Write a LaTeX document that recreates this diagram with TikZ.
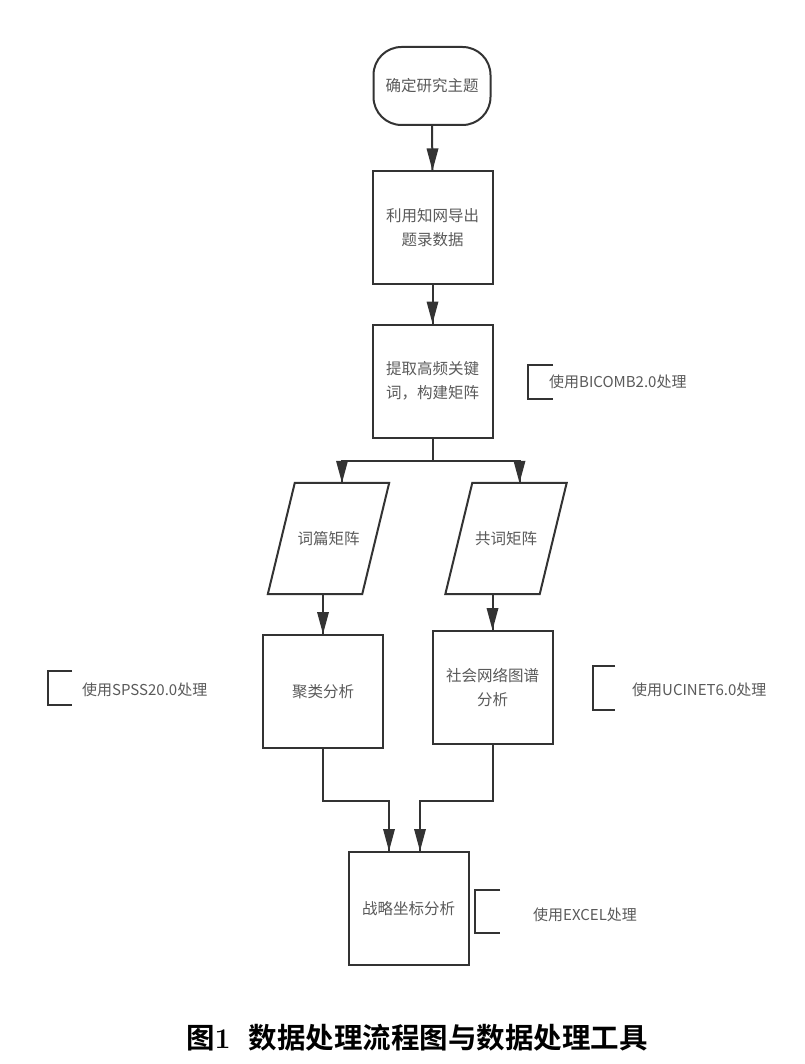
\documentclass[tikz,border=0pt]{standalone}
\usepackage{fontspec}
\newfontfamily\cjk{Noto Sans CJK SC}
\newfontfamily\cjkbold{Noto Sans CJK SC Bold}
\definecolor{lineGray}{HTML}{333333}
\definecolor{textGray}{HTML}{5A5A5A}

\begin{document}
\begin{tikzpicture}[
x=1pt,
y=-1pt,
font=\cjk\fontsize{15.5}{24}\selectfont,
text=textGray,
stage/.style={
rectangle,
draw=lineGray,
line width=2pt,
align=center,
minimum width=120pt,
minimum height=113pt,
inner sep=0pt
},
terminal/.style={
stage,
rounded corners=28pt,
minimum width=117pt,
minimum height=78pt
},
matrixbox/.style={
rectangle,
align=center,
minimum width=121pt,
minimum height=111pt,
inner sep=0pt
},
note/.style={
anchor=west,
inner sep=0pt,
font=\cjk\fontsize{15}{18}\selectfont
},
link/.style={
draw=lineGray,
line width=2pt
}
]

\fill[white] (0,0) rectangle (804,1064);
\useasboundingbox (0,0) rectangle (804,1064);

\node[terminal] (topic) at (432,86)
{确定研究主题};

\node[stage] (export) at (432.5,228)
{利用知网导出\\题录数据};

\node[stage] (extract) at (432.5,381)
{提取高频关键\\词，构建矩阵};

\node[matrixbox] (wordDoc) at (328.5,538.5)
{词篇矩阵};

\node[matrixbox] (coWord) at (506,538.5)
{共词矩阵};

\node[stage] (cluster) at (323,691.5)
{聚类分析};

\node[stage] (network) at (492.5,687.5)
{社会网络图谱\\分析};

\node[stage] (strategy) at (408.5,908.5)
{战略坐标分析};

% Slanted outlines of the two matrix nodes
\draw[link] (wordDoc.south west) -- ([xshift=27pt]wordDoc.north west)
  -- (wordDoc.north east) -- ([xshift=-27pt]wordDoc.south east) -- cycle;
\draw[link] (coWord.south west) -- ([xshift=27pt]coWord.north west)
  -- (coWord.north east) -- ([xshift=-27pt]coWord.south east) -- cycle;

% Tool notes with open brackets
\node[note] (noteBicomb) at (549,382) {使用BICOMB2.0处理};
\draw[link] (553,365) -| (528,399) -- (553,399);

\node[note] (noteSpss) at (82,690) {使用SPSS20.0处理};
\draw[link] (72,671) -| (48,705) -- (72,705);

\node[note] (noteUcinet) at (632,690) {使用UCINET6.0处理};
\draw[link] (615,666) -| (593,710) -- (615,710);

\node[note] (noteExcel) at (533,915) {使用EXCEL处理};
\draw[link] (500,890) -| (475,933) -- (500,933);

\node[font=\cjkbold\fontsize{28.5}{32}\selectfont, text=black] (caption) at (417,1038)
{图{\rmfamily\bfseries 1}\hspace{18pt}数据处理流程图与数据处理工具};

% Branch and merge points
\coordinate (split) at (432.5,461);
\coordinate (wordDocIn) at ([xshift=13.5pt]wordDoc.north);
\coordinate (coWordIn) at ([xshift=13.5pt]coWord.north);
\coordinate (joinL) at (389,801);
\coordinate (joinR) at (420,801);

% Arrow shafts
\draw[link] (topic.south) -- (export.north);
\draw[link] (export.south) -- (extract.north);
\draw[link] (extract.south) -- (split);
\draw[link] (split) -| (wordDocIn);
\draw[link] (split) -| (coWordIn);
\draw[link] (wordDoc.south -| cluster.north) -- (cluster.north);
\draw[link] (coWord.south -| network.north) -- (network.north);
\draw[link] (cluster.south) |- (joinL) -- (joinL |- strategy.north);
\draw[link] (network.south) |- (joinR) -- (joinR |- strategy.north);

% Hand-drawn arrowheads (tip at the destination boundary)
\fill[lineGray] (export.north) -- ++(-6,-22) -- ++(12,0) -- cycle;
\fill[lineGray] (extract.north) -- ++(-6,-22) -- ++(12,0) -- cycle;
\fill[lineGray] (wordDocIn) -- ++(-6,-22) -- ++(12,0) -- cycle;
\fill[lineGray] (coWordIn) -- ++(-6,-22) -- ++(12,0) -- cycle;
\fill[lineGray] (cluster.north) -- ++(-6,-22) -- ++(12,0) -- cycle;
\fill[lineGray] (network.north) -- ++(-6,-22) -- ++(12,0) -- cycle;
\fill[lineGray] (joinL |- strategy.north) -- ++(-6,-22) -- ++(12,0) -- cycle;
\fill[lineGray] (joinR |- strategy.north) -- ++(-6,-22) -- ++(12,0) -- cycle;

\end{tikzpicture}
\end{document}
